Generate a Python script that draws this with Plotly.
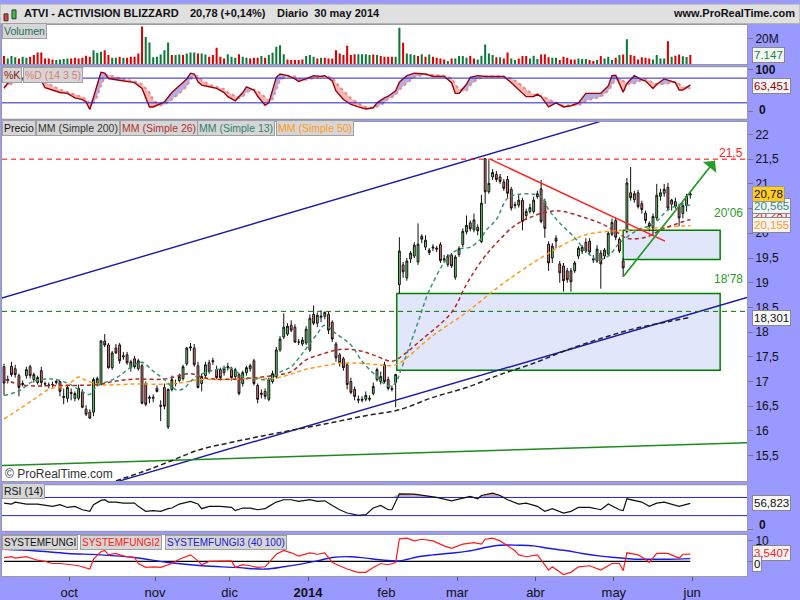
import numpy as np
import pandas as pd
import plotly.graph_objects as go
from plotly.subplots import make_subplots

# ---------------- DATA ----------------
holidays = ['2013-11-28', '2013-12-25', '2014-01-01', '2014-01-20', '2014-02-17', '2014-04-18', '2014-05-26']
dates = [d for d in pd.bdate_range('2013-09-05', '2014-05-30') if d.strftime('%Y-%m-%d') not in holidays]

opens = [
17.30,17.02,17.31,17.26,17.12,16.94,17.12,17.30,17.04,16.98,
17.22,16.96,16.92,16.94,16.98,17.00,16.70,16.66,16.78,16.66,
16.66,16.78,16.44,16.38,16.38,16.96,16.94,17.82,17.74,17.28,
17.68,17.74,17.50,17.54,17.28,17.46,17.26,17.32,16.96,16.66,
16.66,16.86,16.52,16.88,16.08,16.84,16.96,17.02,17.06,17.36,
17.68,17.68,17.32,16.96,17.12,17.38,17.40,17.24,17.24,17.18,
17.28,17.24,17.10,17.14,16.96,17.18,17.26,17.42,16.92,16.74,
16.80,16.64,17.00,17.10,17.64,17.90,17.96,18.14,18.10,17.80,
17.76,17.78,17.64,18.36,18.18,18.30,18.32,18.36,18.20,17.76,
17.54,17.46,17.34,17.00,16.84,16.62,16.62,16.64,16.64,16.76,
17.04,17.00,17.34,17.04,16.84,16.98,18.96,19.36,19.10,19.48,
19.54,19.42,19.94,19.72,19.66,19.70,19.70,19.77,19.46,19.37,
19.56,19.11,19.57,19.77,20.03,20.21,20.07,20.12,19.83,21.51,
20.84,21.14,21.19,21.14,21.04,21.09,20.89,20.56,20.57,20.67,
20.36,20.44,20.44,20.74,20.90,20.64,19.78,19.50,19.90,19.38,
19.34,19.24,19.24,19.24,19.54,19.64,19.82,19.84,19.46,19.44,
19.60,19.54,19.58,19.98,20.26,19.88,19.44,20.04,20.82,20.68,
20.82,20.60,20.41,20.20,20.11,20.31,20.75,20.81,20.93,20.59,
20.64,20.54,20.40,20.56,20.80]
highs = [
17.36,17.12,17.40,17.34,17.16,17.02,17.30,17.34,17.18,17.12,
17.30,17.00,16.98,17.00,17.04,17.02,16.86,16.94,16.86,16.80,
16.94,16.84,16.52,16.44,17.08,17.10,17.84,17.96,17.78,17.62,
17.76,17.78,17.60,17.60,17.44,17.52,17.46,17.36,17.00,16.72,
16.74,16.92,16.62,16.96,16.86,17.12,17.04,17.16,17.34,17.70,
17.78,17.76,17.40,17.16,17.40,17.44,17.48,17.32,17.28,17.32,
17.38,17.30,17.28,17.18,17.22,17.32,17.36,17.46,16.96,16.84,
16.86,17.08,17.22,17.70,17.92,18.38,18.18,18.24,18.16,17.86,
17.90,18.12,18.36,18.54,18.40,18.44,18.42,18.42,18.24,17.80,
17.58,17.50,17.38,17.08,16.90,16.72,16.70,16.80,16.72,16.98,
17.28,17.20,17.40,17.10,16.92,17.16,19.92,19.42,19.50,19.64,
19.82,20.20,19.98,19.96,19.70,19.78,19.74,19.82,19.56,19.58,
19.60,19.56,19.74,20.10,20.36,20.26,20.40,20.18,20.78,21.52,
21.48,21.30,21.26,21.20,21.10,21.16,20.94,20.64,20.78,20.72,
20.50,20.60,20.74,20.86,21.08,20.70,19.84,19.80,19.96,19.44,
19.40,19.30,19.30,19.44,19.74,19.76,19.90,19.90,19.56,19.76,
19.66,19.70,20.04,20.30,20.32,19.92,19.50,21.12,21.34,20.86,
20.88,20.66,20.46,20.24,20.40,21.00,20.90,21.00,21.02,20.70,
20.72,20.60,20.62,20.80,20.84]
lows = [
16.72,16.96,17.10,17.08,16.70,16.90,17.06,17.06,16.98,16.94,
16.90,16.90,16.86,16.88,16.94,16.70,16.54,16.58,16.62,16.60,
16.62,16.46,16.30,16.24,16.30,16.90,16.92,17.70,17.26,17.24,
17.56,17.36,17.44,17.34,17.20,17.26,17.22,16.54,16.50,16.56,
16.58,16.78,16.20,16.44,16.04,16.80,16.90,16.98,17.02,17.32,
17.62,17.30,16.86,16.80,17.06,17.16,17.34,17.04,17.02,17.12,
17.22,17.02,17.04,16.72,16.90,17.12,17.20,16.92,16.56,16.66,
16.64,16.60,16.96,17.06,17.60,17.86,17.92,18.00,17.78,17.74,
17.72,17.74,17.60,18.14,18.10,18.20,18.26,17.96,17.80,17.40,
17.30,17.22,16.84,16.74,16.62,16.56,16.58,16.60,16.60,16.72,
17.00,16.94,16.96,16.82,16.80,16.48,18.78,19.10,19.04,19.40,
19.50,19.36,19.80,19.66,19.56,19.64,19.62,19.40,19.40,19.32,
19.30,19.06,19.52,19.72,19.98,20.04,20.02,19.96,19.80,20.60,
20.80,21.08,21.04,21.00,20.86,20.70,20.46,20.50,20.52,20.06,
20.28,20.40,20.40,20.70,20.20,19.91,19.24,19.40,19.70,19.00,
18.82,19.00,18.82,19.20,19.48,19.58,19.60,19.56,19.40,19.40,
18.88,19.48,19.54,19.94,19.86,19.60,19.12,20.00,20.66,20.62,
20.50,20.40,20.20,20.04,19.96,20.26,20.66,20.74,20.46,20.46,
20.50,20.14,20.30,20.44,20.70]
closes = [
16.97,17.04,17.14,17.14,16.88,16.96,17.24,17.12,17.14,17.08,
16.98,16.95,16.93,16.94,17.00,16.80,16.68,16.88,16.76,16.76,
16.86,16.48,16.34,16.26,17.04,17.06,17.82,17.74,17.28,17.58,
17.58,17.42,17.52,17.38,17.40,17.30,17.42,16.56,16.54,16.68,
16.68,16.80,16.50,16.50,16.84,17.04,16.96,17.10,17.30,17.68,
17.70,17.34,16.88,17.10,17.34,17.20,17.42,17.08,17.08,17.26,
17.30,17.08,17.24,16.76,17.18,17.28,17.32,16.96,16.64,16.76,
16.70,17.04,17.16,17.64,17.86,18.10,18.12,18.04,17.80,17.80,
17.84,18.06,18.28,18.18,18.34,18.32,18.40,18.04,17.86,17.48,
17.38,17.28,16.94,16.78,16.70,16.64,16.64,16.72,16.66,16.90,
17.24,17.10,17.00,16.86,16.86,17.14,19.64,19.22,19.44,19.60,
19.76,19.78,19.88,19.86,19.61,19.72,19.68,19.45,19.48,19.54,
19.34,19.52,19.69,20.04,20.16,20.09,20.27,20.05,20.61,20.84,
21.01,21.23,21.09,21.05,20.91,20.81,20.51,20.58,20.67,20.24,
20.44,20.52,20.67,20.80,20.24,20.10,19.40,19.74,19.84,19.20,
19.04,19.06,19.02,19.40,19.70,19.72,19.64,19.62,19.48,19.68,
19.38,19.66,20.00,20.22,19.92,19.64,19.30,21.02,20.72,20.80,
20.54,20.48,20.26,20.14,20.34,20.77,20.82,20.89,20.51,20.67,
20.54,20.31,20.56,20.75,20.78]

volume_m = [
6.4,4.6,6.4,5.4,4.6,5.9,5.1,5.9,7.2,9.2,
9.2,4.6,4.6,3.8,3.3,3.8,4.1,4.6,4.6,5.1,
4.6,5.1,6.7,5.9,11.0,9.0,9.7,11.0,7.2,5.1,
5.1,5.9,5.1,5.1,5.9,5.9,8.5,29.5,21.3,16.9,
5.4,5.9,7.7,11.0,16.9,7.2,7.2,7.7,7.2,8.5,
9.2,9.2,8.5,8.5,7.7,5.9,7.2,12.8,5.9,4.6,
7.9,5.9,5.1,7.9,5.9,5.1,4.6,5.1,5.1,6.4,
5.1,7.2,9.0,13.6,14.9,7.9,3.8,3.3,3.3,3.3,
3.8,6.4,7.2,5.9,4.6,5.1,5.1,4.6,4.6,11.0,
8.5,7.2,14.4,7.2,7.9,7.9,7.9,7.9,7.2,7.7,
7.2,6.4,5.9,5.9,5.9,5.9,28.4,
16.7,8.5,7.9,7.2,6.4,7.9,5.9,7.7,5.9,5.1,
4.6,3.8,2.6,4.6,4.6,6.4,6.4,5.1,6.4,4.6,
3.8,6.7,15.4,8.5,7.2,5.4,5.4,4.6,9.2,4.6,
3.3,4.6,6.4,6.4,4.6,6.7,4.1,7.7,7.9,5.4,
5.1,5.1,3.3,5.9,5.1,3.8,3.8,4.6,4.1,4.1,
3.3,2.6,3.3,6.4,4.6,5.9,3.3,5.1,7.2,7.7,
19.5,7.2,6.7,3.8,5.4,5.1,4.6,3.8,7.2,4.6,
4.6,17.9,5.9,6.7,7.7,6.2,5.6,7.147]
volume_dir = list(
"rgggrggrrr" "rrrrggggrr" "rrrrgggrrg" "grgrrrrrgg"
"gggggrggrg" "ggrggrrrrr" "gggrggrrrg" "rgggggrrrr"
"rgggrgrrrr" "rrrrrggggr" "grrrrgg"
"rgggrgrgrr" "rrgrggggrr" "gggggrgrrg" "grrrgggrrr"
"ggrrrrrggg" "rrgrgggrgr" "grrrrrrggg" "grgrrggr")

stoch_idx = [0,1,3,5,8,10,11,13,15,17,19,21,22,23,24,25,26,27,28,30,33,35,37,39,40,42,43,45,47,49,
             50,51,52,53,55,57,59,60,62,63,64,65,67,68,70,71,72,73,74,76,78,79,81,83,85,86,88,89,91,93,
             95,97,99,100,102,103,105,106,108,110,113,115,118,120,121,122,124,125,127,129,
             132,134,136,138,140,142,143,144,146,148,150,152,154,156,160,162,163,164,166,167,
             169,171,172,174,175,177,180,181,182,184]
stoch_k = [55,68,76,79,76,73,57,51,45,43,32,28,22,4,34,69,94,92,79,76,71,69,55,10,10,18,22,45,61,78,
           92,90,71,63,59,55,45,35,25,36,45,59,51,36,14,20,53,82,90,86,78,72,79,86,84,86,73,49,28,16,
           10,5,8,20,32,36,49,70,86,92,90,84,84,69,43,43,65,82,86,84,
           84,84,69,51,35,35,41,35,10,20,10,13,20,43,43,61,86,87,46,67,
           86,76,73,55,65,78,69,51,51,63.451]
stoch_d = [60,62,70,76,78,76,70,60,52,46,40,34,28,18,20,36,62,82,88,82,76,72,65,45,26,14,16,28,43,60,
           77,86,84,75,64,59,53,45,36,32,35,46,52,48,34,23,29,52,75,86,84,78,76,80,84,85,81,69,49,31,
           18,10,8,11,20,29,39,52,68,83,89,88,86,79,65,52,50,63,78,84,
           84,84,79,68,52,40,37,37,28,21,13,14,14,25,35,49,63,78,73,66,
           67,76,78,68,64,66,71,66,57,55]
stoch_levels = [80, 20]

rsi_idx = [0,2,3,6,9,11,13,15,17,19,21,23,24,26,27,28,30,32,35,36,38,40,42,44,45,47,49,50,52,53,
           55,58,61,62,64,66,68,70,71,73,75,77,79,82,84,86,88,90,92,94,95,97,99,101,103,104,106,110,113,116,
           120,122,125,127,128,131,133,135,137,138,140,143,145,147,150,152,154,157,160,162,
           165,166,167,169,171,173,175,177,179,181,184]
rsi_vals = [57.6,55.5,59.8,55.5,55.5,52.5,50.4,54,48,50.4,43,39.5,54,63.5,65,59.8,59.8,57.6,57.6,50.4,
            39.5,41,39.5,45.3,46.7,55.5,59.8,61.3,55.5,45.3,50.4,50.4,48.2,41,46.7,46.7,43,45.3,50.4,59.8,
            65,65,61.3,65,61.3,62.7,52.5,43,35.8,32.2,30.7,32.2,46.7,52.5,43,43,78,77.3,74.4,70,
            62.7,67,72.2,67,74.4,79.5,74.4,65,59.8,55.5,57.6,50.4,39.5,45.3,35.8,39.5,48.2,48.2,43,55.5,
            43,41,67,62.7,59.8,50.4,57.6,59.8,55.5,50.4,56.823]
rsi_levels = [70, 30]

fungi2_idx = [0,2,3,6,9,11,13,15,18,20,23,24,26,27,28,30,31,33,35,36,38,40,42,44,45,47,49,50,52,53,
              55,58,61,62,64,66,68,70,71,73,75,77,79,82,84,86,88,90,92,94,95,97,99,101,103,105,106,108,110,112,
              115,118,120,123,126,128,129,131,133,135,137,138,140,143,146,147,150,152,154,157,
              160,163,165,166,167,170,172,173,175,178,180,181,182,184]
fungi2_vals = [1.9,2.3,1.6,2.3,0.6,0,-1.0,-1.0,-1.6,-2.1,-3.7,1.1,4.7,5.4,3.2,3.9,3.2,2.3,1.9,-1.0,
               -2.9,-2.6,-2.9,-1.6,-1.0,1.1,2.3,3.2,0.3,-1.6,0,0.3,0.3,-2.9,-1.6,-2.1,-2.9,-2.6,-0.5,3.5,
               5.4,4.2,2.6,4.2,3.5,4.2,-0.5,-2.1,-3.7,-4.8,-5.3,-5.3,-2.9,-1.0,-1.6,-0.5,11.0,11.3,10.0,10.8,
               10.0,7.6,6.4,8.4,9.2,8.4,10.8,11.3,10.0,7.6,5.2,3.2,2.3,3.2,-4.2,-2.6,-6.4,-5.3,-2.6,-2.1,
               -4.2,-1.0,-1.0,-4.5,4.2,3.2,1.1,-0.5,3.9,3.9,2.3,1.6,3.5,3.5407]
fungi3_idx = [0,8,17,26,35,44,53,62,70,75,84,88,93,97,102,106,111,115,121,126,
              129,133,138,142,146,151,155,160,164,169,173,178,184]
fungi3_vals = [5.9,5.2,3.9,3.2,1.9,-0.5,-2.1,-2.9,-3.7,-2.6,0.3,1.9,2.3,1.6,0.6,0.3,2.3,3.2,4.2,5.5,
               6.8,7.9,7.9,7.6,6.4,5.2,3.9,2.6,1.9,1.1,1.1,1.1,1.4]
fungi_level = 0

sma13_idx = [0,4,8,13,17,20,23,25,30,35,37,40,43,46,48,50,52,57,61,64,68,71,74,77,80,84,86,89,93,96,
             99,103,105,106,111,114,119,122,125,128,129,132,135,138,142,144,146,149,153,156,159,162,165,170,174,178,181,184]
sma13 = [16.72,16.81,17.01,17.05,16.97,16.84,16.74,16.91,17.07,17.34,17.39,17.21,17.04,16.84,16.85,17.00,17.12,17.24,17.27,17.10,
         17.05,17.04,17.19,17.30,17.57,17.97,18.14,17.97,17.74,17.41,17.17,16.91,16.97,17.15,18.20,18.84,19.51,19.68,19.72,19.90,
         20.04,20.28,20.71,20.79,20.79,20.74,20.48,20.21,19.91,19.64,19.47,19.54,19.80,20.07,20.18,20.47,20.57,20.565]
sma26_idx = [0,5,15,25,30,35,43,50,54,63,72,77,81,86,90,95,99,104,106,112,120,124,128,132,137,142,147,150,156,160,164,167,172,177,184]
sma26 = [17.05,16.93,16.92,16.94,17.01,17.05,17.05,17.16,17.07,17.05,17.12,17.20,17.44,17.57,17.65,17.63,17.54,17.41,17.48,17.85,
         18.40,18.97,19.44,19.80,20.16,20.35,20.45,20.44,20.31,20.20,20.04,19.90,19.92,20.10,20.281]
sma50_idx = [0,4,8,12,17,20,22,26,35,44,48,53,59,68,72,77,81,86,90,95,99,104,106,115,124,129,133,142,151,156,162,169,178,184]
sma50 = [16.24,16.44,16.64,16.84,16.93,17.09,17.02,16.94,16.95,16.95,16.98,17.04,17.04,17.07,17.06,17.15,17.25,17.32,17.37,17.37,
         17.35,17.32,17.37,17.93,18.40,18.70,18.94,19.41,19.81,19.97,20.04,20.07,20.13,20.155]
sma200_idx = [30,37,44,52,61,70,79,88,97,106,115,124,133,142,151,160,169,178,184]
sma200 = [14.99,15.17,15.37,15.61,15.77,15.91,16.04,16.17,16.31,16.43,16.68,16.88,17.14,17.37,17.64,17.87,18.07,18.21,18.301]

# drawings (bar index, price)
channel_up_idx, channel_up = [-1.07, 160.6], [18.68, 22.28]
channel_lo_idx, channel_lo = [30.6, 199.2], [14.98, 18.70]
long_green_idx, long_green = [-0.54, 199.2], [15.30, 15.76]
downtrend_idx, downtrend = [130.3, 177.2], [21.50, 19.84]
arrow_idx, arrow_px = [166.0, 190.6], [19.12, 21.47]
big_box_idx, big_box = [105.3, 192.0], [17.23, 18.78]
small_box_idx, small_box = [166.0, 192.0], [19.47, 20.06]
resistance = 21.5
support = 18.42

month_names = ['oct', 'nov', 'dic', '<b>2014</b>', 'feb', 'mar', 'abr', 'may', 'jun']
price_ticks = [15.5, 16, 16.5, 17, 17.5, 18, 18.5, 19, 19.5, 20, 20.5, 21, 21.5, 22]

# ---------------- FIGURE ----------------
W, H = 800, 600
FONT = 'Liberation Sans, Arial, sans-serif'
x = list(range(len(dates)))
XR = [-0.54, 199.2]

fig = make_subplots(rows=5, cols=1, shared_xaxes=True, vertical_spacing=0.0)

# volume
vcol = ['#0d7a3a' if c == 'g' else '#dd0000' for c in volume_dir]
fig.add_trace(go.Bar(x=x, y=volume_m, marker_color=vcol, marker_line_width=0, width=0.55), row=1, col=1)

# stochastic
K = np.array(stoch_k, float); D = np.array(stoch_d, float)
fig.add_trace(go.Scatter(x=stoch_idx, y=D, mode='lines', line=dict(width=0), hoverinfo='skip'), row=2, col=1)
fig.add_trace(go.Scatter(x=stoch_idx, y=np.maximum(K, D), mode='lines', line=dict(width=0),
                         fill='tonexty', fillcolor='rgba(150,150,225,0.75)', hoverinfo='skip'), row=2, col=1)
fig.add_trace(go.Scatter(x=stoch_idx, y=D, mode='lines', line=dict(width=0), hoverinfo='skip'), row=2, col=1)
fig.add_trace(go.Scatter(x=stoch_idx, y=np.minimum(K, D), mode='lines', line=dict(width=0),
                         fill='tonexty', fillcolor='rgba(240,170,170,0.85)', hoverinfo='skip'), row=2, col=1)
fig.add_trace(go.Scatter(x=stoch_idx, y=D, mode='lines', line=dict(color='#f08888', width=2, dash='dot')), row=2, col=1)
fig.add_trace(go.Scatter(x=stoch_idx, y=K, mode='lines', line=dict(color='#a00000', width=1.4)), row=2, col=1)
for lv in stoch_levels:
    fig.add_trace(go.Scatter(x=XR, y=[lv, lv], mode='lines', line=dict(color='#2222cc', width=1)), row=2, col=1)

# price: drawings
fig.add_trace(go.Scatter(x=channel_up_idx, y=channel_up, mode='lines', line=dict(color='#1a1aaa', width=1.4)), row=3, col=1)
fig.add_trace(go.Scatter(x=channel_lo_idx, y=channel_lo, mode='lines', line=dict(color='#1a1aaa', width=1.4)), row=3, col=1)
fig.add_trace(go.Scatter(x=long_green_idx, y=long_green, mode='lines', line=dict(color='#1f8a1f', width=1.5)), row=3, col=1)
fig.add_trace(go.Scatter(x=XR, y=[resistance] * 2, mode='lines', line=dict(color='#ff0000', width=1, dash='5px,4px')), row=3, col=1)
fig.add_trace(go.Scatter(x=XR, y=[support] * 2, mode='lines', line=dict(color='#007700', width=1, dash='5px,4px')), row=3, col=1)
# moving averages
fig.add_trace(go.Scatter(x=sma200_idx, y=sma200, mode='lines', line=dict(color='#222222', width=1.5, dash='5px,3px', shape='spline')), row=3, col=1)
fig.add_trace(go.Scatter(x=sma50_idx, y=sma50, mode='lines', line=dict(color='#ff9a1a', width=1.5, dash='4px,3px', shape='spline')), row=3, col=1)
fig.add_trace(go.Scatter(x=sma26_idx, y=sma26, mode='lines', line=dict(color='#b02828', width=1.5, dash='4px,3px', shape='spline')), row=3, col=1)
fig.add_trace(go.Scatter(x=sma13_idx, y=sma13, mode='lines', line=dict(color='#3a9270', width=1.5, dash='4px,3px', shape='spline')), row=3, col=1)
fig.add_trace(go.Scatter(x=downtrend_idx, y=downtrend, mode='lines', line=dict(color='#ff2020', width=1.4)), row=3, col=1)
fig.add_trace(go.Scatter(x=arrow_idx, y=arrow_px, mode='lines', line=dict(color='#2a9a2a', width=1.4)), row=3, col=1)
# candles
fig.add_trace(go.Candlestick(x=x, open=opens, high=highs, low=lows, close=closes, whiskerwidth=0,
                             increasing=dict(line=dict(color='#111111', width=1), fillcolor='#66dd66'),
                             decreasing=dict(line=dict(color='#111111', width=1), fillcolor='#f07878')),
              row=3, col=1)

# RSI
R = np.array(rsi_vals, float)
fig.add_trace(go.Scatter(x=rsi_idx, y=[rsi_levels[0]] * len(rsi_idx), mode='lines', line=dict(width=0), hoverinfo='skip'), row=4, col=1)
fig.add_trace(go.Scatter(x=rsi_idx, y=np.maximum(R, rsi_levels[0]), mode='lines', line=dict(width=0),
                         fill='tonexty', fillcolor='rgba(190,150,150,0.8)', hoverinfo='skip'), row=4, col=1)
for lv in rsi_levels:
    fig.add_trace(go.Scatter(x=XR, y=[lv, lv], mode='lines', line=dict(color='#2222cc', width=1)), row=4, col=1)
fig.add_trace(go.Scatter(x=rsi_idx, y=R, mode='lines', line=dict(color='#111111', width=1.2)), row=4, col=1)

# SYSTEMFUNGI
fig.add_trace(go.Scatter(x=[x[0], x[-1]], y=[fungi_level] * 2, mode='lines', line=dict(color='#000000', width=1.3)), row=5, col=1)
fig.add_trace(go.Scatter(x=fungi3_idx, y=fungi3_vals, mode='lines', line=dict(color='#1a1ae6', width=1.4, shape='spline')), row=5, col=1)
fig.add_trace(go.Scatter(x=fungi2_idx, y=fungi2_vals, mode='lines', line=dict(color='#ff1a1a', width=1.2)), row=5, col=1)

# boxes
for bx, by in [(big_box_idx, big_box), (small_box_idx, small_box)]:
    fig.add_shape(type='rect', xref='x3', yref='y3', x0=bx[0], x1=bx[1], y0=by[0], y1=by[1],
                  fillcolor='#e1e6fa', line=dict(color='#008000', width=1.5), layer='below')

fig.add_annotation(xref='x3', yref='y3', axref='x3', ayref='y3', x=arrow_idx[1], y=arrow_px[1],
                   ax=arrow_idx[0], ay=arrow_px[0], showarrow=True, arrowhead=1, arrowsize=2.2,
                   arrowwidth=1.3, arrowcolor='#2a9a2a', text='')

# ---------------- LAYOUT ----------------
def dom(top, bot):
    return [1 - bot / H, 1 - top / H]

axis_common = dict(side='right', showgrid=False, zeroline=False, ticks='outside', ticklen=5,
                   tickcolor='#777', showline=True, linecolor='#9a9a9a', mirror=True,
                   tickfont=dict(family=FONT, size=12, color='#111'))
fig.update_layout(
    yaxis=dict(domain=dom(21, 61), range=[0, 30.8], tickvals=[20], ticktext=['20M'], **axis_common),
    yaxis2=dict(domain=dom(64, 116), range=[-18.4, 106.4], tickvals=[0, 100], ticktext=['', '<b>100</b>'], **axis_common),
    yaxis3=dict(domain=dom(119, 483), range=[14.98, 22.26], tickvals=price_ticks, **axis_common),
    yaxis4=dict(domain=dom(487, 533), range=[-3.3, 96.7], tickvals=[0], ticktext=[''], **axis_common),
    yaxis5=dict(domain=dom(537, 579), range=[-7.2, 13.0], tickvals=[0, 10], **axis_common),
)
month_idx = []
prev = None
for i, d in enumerate(dates):
    if prev is not None and d.month != prev:
        month_idx.append(i - 0.5)
    prev = d.month
month_idx.append(len(dates) - 0.5)
fig.update_xaxes(domain=[2 / W, 747 / W], range=XR, showgrid=False, zeroline=False, showline=True,
                 linecolor='#9a9a9a', mirror=True, rangeslider_visible=False, showticklabels=False, ticks='')
fig.update_xaxes(row=5, col=1, showticklabels=True, tickvals=month_idx, ticktext=month_names,
                 ticks='outside', ticklen=4, tickcolor='#555',
                 tickfont=dict(family=FONT, size=13, color='#111'))

fig.update_layout(width=W, height=H, margin=dict(l=0, r=0, t=0, b=0), autosize=False,
                  paper_bgcolor='#9999ff', plot_bgcolor='white', showlegend=False,
                  separators=',.', font=dict(family=FONT))

# title bar
fig.add_shape(type='rect', xref='paper', yref='paper', x0=0, x1=1, y0=1 - 20 / H, y1=1,
              fillcolor='#e0e0e0', line=dict(color='#a8a8a8', width=1), layer='above')
fig.add_shape(type='rect', xref='paper', yref='paper', x0=4 / W, x1=8 / W, y0=1 - 17 / H, y1=1 - 10 / H,
              fillcolor='#e04040', line=dict(color='#333', width=1))
fig.add_shape(type='rect', xref='paper', yref='paper', x0=12 / W, x1=16 / W, y0=1 - 15 / H, y1=1 - 6 / H,
              fillcolor='#40c040', line=dict(color='#333', width=1))

def ann(text, xpx, ypx, size=11, color='#111', xanchor='left', bold=False, bg=None, border=None, yanchor='middle', pad=1):
    t = f'<b>{text}</b>' if bold else text
    kw = dict(xref='paper', yref='paper', x=xpx / W, y=1 - ypx / H, text=t, showarrow=False,
              xanchor=xanchor, yanchor=yanchor, font=dict(family=FONT, size=size, color=color), borderpad=pad)
    if bg:
        kw['bgcolor'] = bg
    if border:
        kw['bordercolor'] = border
        kw['borderwidth'] = 1
    fig.add_annotation(**kw)

ann('ATVI - ACTIVISION BLIZZARD', 22, 9, size=11, bold=True)
ann('20,78 (+0,14%)', 188, 9, size=11, bold=True)
ann('Diario  30 may 2014', 275, 9, size=11, bold=True)
ann('www.ProRealTime.com', 797, 9, size=11, bold=True, xanchor='right')

lab_bg, lab_bd = '#d6d6d6', '#a0a0a0'
LS = 10.5
ann('Volumen', 2, 27, size=LS, color='#1f6b5a', bg=lab_bg, border=lab_bd)
ann('%K', 2, 71.5, size=LS, color='#8b1010', bg=lab_bg, border=lab_bd)
ann('%D (14 3 5)', 23, 71.5, size=LS, color='#e07878', bg=lab_bg, border=lab_bd)
ann('Precio', 2, 125.5, size=LS, color='#111', bg=lab_bg, border=lab_bd)
ann('MM (Simple 200)', 36, 125.5, size=LS, color='#333', bg=lab_bg, border=lab_bd)
ann('MM (Simple 26)', 120, 125.5, size=LS, color='#b03030', bg=lab_bg, border=lab_bd)
ann('MM (Simple 13)', 197, 125.5, size=LS, color='#2e8070', bg=lab_bg, border=lab_bd)
ann('MM (Simple 50)', 276, 125.5, size=LS, color='#ff9a1a', bg=lab_bg, border=lab_bd)
ann('RSI (14)', 2, 493, size=LS, color='#111', bg=lab_bg, border=lab_bd)
ann('SYSTEMFUNGI', 2, 544.5, size=10, color='#111', bg=lab_bg, border=lab_bd)
ann('SYSTEMFUNGI2', 80, 544.5, size=10, color='#ff2020', bg=lab_bg, border=lab_bd)
ann('SYSTEMFUNGI3 (40 100)', 165, 544.5, size=10, color='#2020cc', bg=lab_bg, border=lab_bd)
ann('© ProRealTime.com', 3, 476, size=12, color='#333')

# level labels inside the chart
ann('21,5', 745, 151, size=12, color='#ff2020', xanchor='right')
ann("20'06", 745, 211, size=12, color='#2a9a2a', xanchor='right')
ann("18'78", 745, 278, size=12, color='#2a9a2a', xanchor='right')

# right-side value boxes
BS = 11.5
ann('<b>0</b>', 757, 107, size=12, color='#111')
ann('7.147', 752, 52, size=BS, color='#128a40', bg='#f4f4f4', border='#888')
ann('63,451', 752, 83, size=BS, color='#a00000', bg='#f4f4f4', border='#888')
ann('20,281', 752, 213, size=BS, color='#dd2020', bg='#f4f4f4', border='#888')
ann('20,565', 752, 204, size=BS, color='#2e8b80', bg='#f4f4f4', border='#888')
ann('20,155', 752, 224, size=BS, color='#ff9a1a', bg='#f4f4f4', border='#888')
ann('20,78', 752, 192, size=BS, color='#111', bg='#ffcc22', border='#999')
ann('18,301', 752, 318, size=BS, color='#111', bg='#f8f8f8', border='#888')
ann('56,823', 752, 505, size=BS, color='#111', bg='#f8f8f8', border='#888')
ann('<b>0</b>', 757, 527, size=12, color='#111')
ann('3,5407', 752, 555, size=BS, color='#ff2020', bg='#f4f4f4', border='#888')
ann('0', 752, 567, size=BS, color='#111', bg='#f4f4f4', border='#888')

fig.write_html('out.html', include_plotlyjs=True, config={'displayModeBar': False},
               post_script="document.body.style.margin='0';document.body.style.overflow='hidden';")
